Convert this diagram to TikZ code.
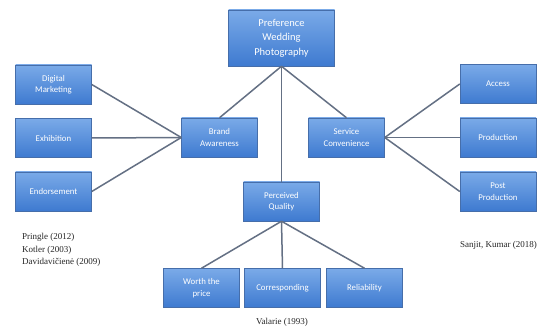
\documentclass[tikz,border=0pt]{standalone}
\usepackage{fontspec}
\setmainfont{Liberation Serif}
\newfontfamily\boxfont{Carlito}
\usetikzlibrary{positioning}
\definecolor{boxtop}{RGB}{122,170,232}
\definecolor{boxbot}{RGB}{62,122,208}
\definecolor{boxedge}{RGB}{70,110,170}
\definecolor{link}{RGB}{100,112,132}
\tikzset{
  factor/.style={draw=boxedge,line width=0.5pt,top color=boxtop,bottom color=boxbot,
    text=white,font=\boxfont\fontsize{8.8}{11.5}\selectfont,align=center,
    minimum width=76pt,minimum height=39pt,inner sep=1pt},
  core/.style={factor,minimum width=106pt,minimum height=56pt,font=\boxfont\fontsize{10.5}{14.5}\selectfont},
  link/.style={draw=link,line width=1.5pt},
  cite/.style={font=\fontsize{9}{12.5}\selectfont,text=black!85,align=left,inner sep=0pt}
}
\begin{document}
\begin{tikzpicture}[x=1pt,y=-1pt]
  \useasboundingbox[fill=white] (0,0) rectangle (550,331);

  \node[core]   (pref) at (281.5,38)  {Preference\\Wedding\\Photography};

  \node[factor] (brand) at (219.5,137.5) {Brand\\Awareness};
  \node[factor] (serv)  at (346.5,137.5) {Service\\Convenience};
  \node[factor] (qual)  at (281.5,201.5) {Perceived\\Quality};

  \node[factor] (digi) at (53.5,84.5)  {Digital\\Marketing};
  \node[factor] (exhi) at (53.5,138)   {Exhibition};
  \node[factor] (endo) at (53.5,191.5) {Endorsement};

  \node[factor] (acce) at (498,84)    {Access};
  \node[factor] (prod) at (498,137.5) {Production};
  \node[factor] (post) at (498,191.5) {Post\\Production};

  \node[factor] (wort) at (201.5,288) {Worth the\\price};
  \node[factor] (corr) at (282.5,288) {Corresponding};
  \node[factor] (reli) at (364.5,288) {Reliability};

  % links
  \draw[link] (pref.south) -- (brand.north);
  \draw[link] (pref.south) -- (serv.north);
  \draw[link] (pref.south) -- (qual.north);
  \foreach \n in {digi,exhi,endo} \draw[link] (\n.east) -- (brand.west);
  \foreach \n in {acce,prod,post} \draw[link] (serv.east) -- (\n.west);
  \foreach \n in {wort,corr,reli} \draw[link] (qual.south) -- (\n.north);

  % sources
  \node[cite,anchor=west] (srcba) at (22,250) {Pringle (2012)\\Kotler (2003)\\Davidavičienė (2009)};
  \node[cite,anchor=west] (srcsc) at (460,245) {Sanjit, Kumar (2018)};
  \node[cite] (srcpq) at (282,322) {Valarie (1993)};
\end{tikzpicture}
\end{document}
